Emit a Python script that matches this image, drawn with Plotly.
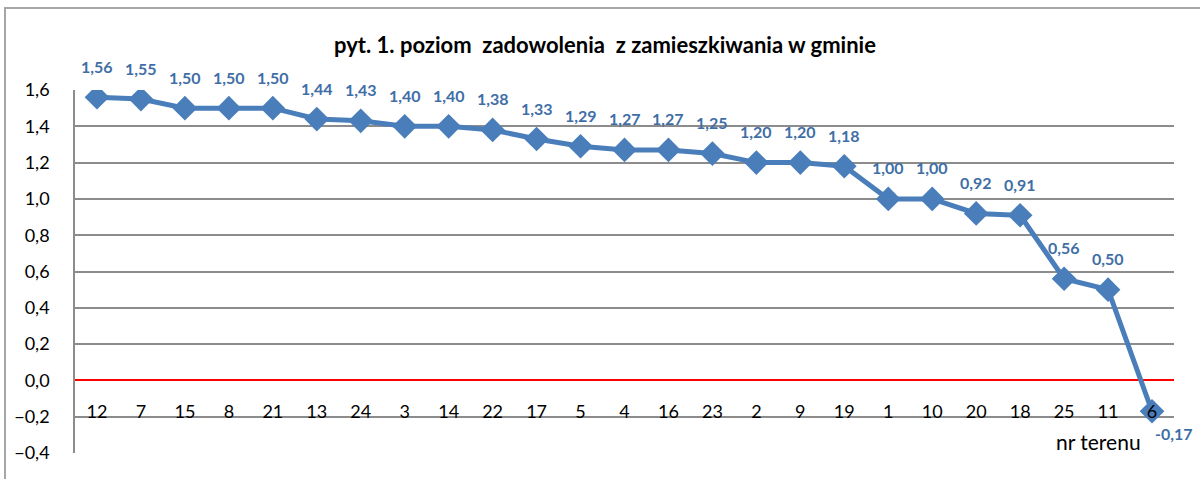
import plotly.graph_objects as go

categories = ["12", "7", "15", "8", "21", "13", "24", "3", "14", "22", "17", "5", "4",
              "16", "23", "2", "9", "19", "1", "10", "20", "18", "25", "11", "6"]
values = [1.56, 1.55, 1.50, 1.50, 1.50, 1.44, 1.43, 1.40, 1.40, 1.38, 1.33, 1.29, 1.27,
          1.27, 1.25, 1.20, 1.20, 1.18, 1.00, 1.00, 0.92, 0.91, 0.56, 0.50, -0.17]
y_ticks = [-0.4, -0.2, 0.0, 0.2, 0.4, 0.6, 0.8, 1.0, 1.2, 1.4, 1.6]
title_text = "pyt. 1. poziom  zadowolenia  z zamieszkiwania w gminie"
axis_title = "nr terenu"

FONT = "Lato"
LINE_COLOR = "#4A7EBB"
LABEL_COLOR = "#3F6EA6"
GRID = "#8C8C8C"

W, H = 1200, 479
ml, mr, mt, mb = 75, 26, 90, 26
pw, ph = W - ml - mr, H - mt - mb

fig = go.Figure()
fig.add_trace(go.Scatter(
    x=categories, y=values, mode="lines+markers",
    line=dict(color=LINE_COLOR, width=5),
    marker=dict(symbol="diamond", size=19, color=LINE_COLOR),
    showlegend=False, hoverinfo="skip",
))

annotations = []
for i, v in enumerate(values):
    txt = f"{v:.2f}".replace(".", ",")
    lf = dict(family=FONT, size=16, color=LABEL_COLOR, weight="bold")
    if v < 0:
        annotations.append(dict(x=i, y=v, text=txt, showarrow=False, xanchor="left",
                                yanchor="middle", xshift=1, yshift=-22, font=lf))
    else:
        annotations.append(dict(x=i, y=v, text=txt, showarrow=False, xanchor="center",
                                yanchor="middle", yshift=31, font=lf))

annotations.append(dict(xref="paper", yref="paper", x=(1143 - ml) / pw, y=(H - mb - 441) / ph,
                        text=axis_title, showarrow=False, xanchor="right", yanchor="middle",
                        font=dict(family=FONT, size=21, color="#000000")))

fig.update_layout(
    width=W, height=H,
    margin=dict(l=ml, r=mr, t=mt, b=mb),
    paper_bgcolor="white", plot_bgcolor="white",
    separators=", ",
    title=dict(text=title_text, x=605 / W, xanchor="center", y=1 - 45 / H, yanchor="middle",
               font=dict(family=FONT, size=22, color="#000000", weight="bold")),
    annotations=annotations,
    font=dict(family=FONT, size=17, color="#000000"),
    xaxis=dict(
        type="category", showgrid=False, showline=False, zeroline=False, automargin=False,
        ticks="", anchor="free", position=(0 - y_ticks[0]) / (y_ticks[-1] - y_ticks[0]),
        ticklabelstandoff=19, tickfont=dict(family=FONT, size=18, color="#000000"),
        range=[-0.5, len(categories) - 0.5], layer="above traces",
    ),
    yaxis=dict(
        range=[y_ticks[0], y_ticks[-1]], tickvals=y_ticks, tickformat=".1f", automargin=False,
        showgrid=True, gridcolor=GRID, gridwidth=1.5,
        zeroline=True, zerolinecolor="#FF0000", zerolinewidth=1.5,
        showline=True, linecolor=GRID, linewidth=1.5,
        ticks="", ticklabelstandoff=20,
        tickfont=dict(family=FONT, size=18, color="#000000"),
    ),
    shapes=[dict(type="rect", xref="paper", yref="paper",
                 x0=(5 - ml) / pw, x1=(W + 20 - ml) / pw,
                 y0=(H - mb - (H + 20)) / ph, y1=(H - mb - 8) / ph,
                 line=dict(color="#A6A6A6", width=2), layer="below")],
)

fig.write_html("out.html", config={"displayModeBar": False},
               post_script="document.body.style.margin='0';document.body.style.overflow='hidden';")
